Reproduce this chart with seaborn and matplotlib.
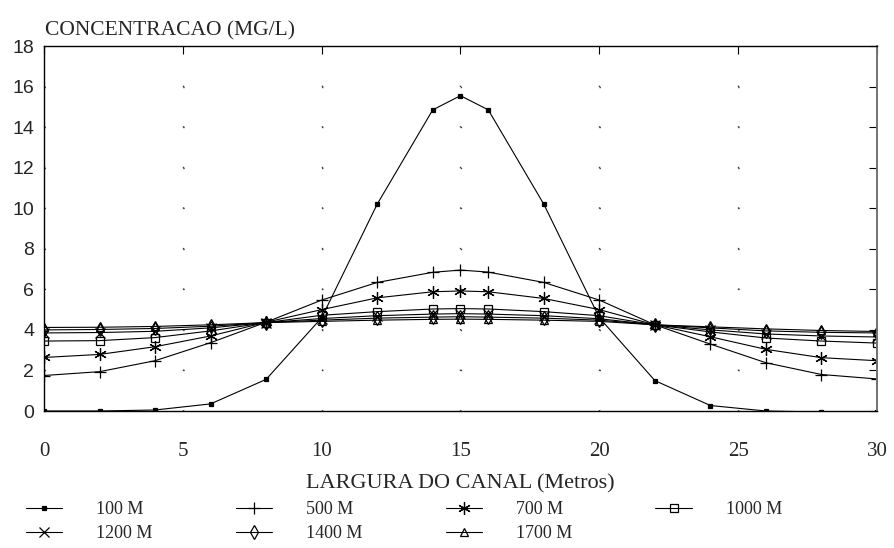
import matplotlib
matplotlib.use("Agg")

import pandas as pd
import matplotlib.pyplot as plt
import seaborn as sns

# ==========================
# Data
# ==========================

largura = [0, 2, 4, 6, 8, 10, 12, 14, 15, 16, 18, 20, 22, 24, 26, 28, 30]

c100 = [0.0, 0.0, 0.05, 0.35, 1.56, 4.6, 10.2, 14.85, 15.55, 14.85, 10.2, 4.6, 1.5, 0.27, 0.0, -0.05, -0.05]
c500 = [1.75, 1.94, 2.48, 3.37, 4.38, 5.47, 6.34, 6.84, 6.95, 6.85, 6.34, 5.47, 4.25, 3.3, 2.38, 1.8, 1.58]
c700 = [2.64, 2.79, 3.17, 3.7, 4.38, 5.0, 5.58, 5.88, 5.92, 5.88, 5.55, 5.0, 4.25, 3.66, 3.04, 2.63, 2.48]
c1000 = [3.45, 3.47, 3.62, 3.95, 4.36, 4.72, 4.9, 5.03, 5.05, 5.03, 4.9, 4.7, 4.25, 3.9, 3.6, 3.45, 3.35]
c1200 = [3.85, 3.87, 3.93, 4.1, 4.36, 4.56, 4.7, 4.78, 4.8, 4.78, 4.7, 4.55, 4.25, 4.0, 3.8, 3.7, 3.65]
c1400 = [4.0, 4.02, 4.07, 4.18, 4.36, 4.48, 4.58, 4.63, 4.65, 4.63, 4.58, 4.48, 4.25, 4.1, 3.95, 3.88, 3.85]
c1700 = [4.12, 4.13, 4.17, 4.25, 4.36, 4.42, 4.48, 4.52, 4.53, 4.52, 4.48, 4.42, 4.25, 4.15, 4.05, 3.97, 3.92]

series_labels = ["100 M", "500 M", "700 M", "1000 M", "1200 M", "1400 M", "1700 M"]
series_values = [c100, c500, c700, c1000, c1200, c1400, c1700]

x_ticks = [0, 5, 10, 15, 20, 25, 30]
y_ticks = [0, 2, 4, 6, 8, 10, 12, 14, 16, 18]

# marker style per series: (marker, size, filled)
marker_style = {
    "100 M": ("s", 2.5, True),
    "500 M": ("+", 9, False),
    "700 M": ((6, 2, 0), 9, False),
    "1000 M": ("s", 6, False),
    "1200 M": ("x", 7, False),
    "1400 M": ("d", 7, False),
    "1700 M": ("^", 6, False),
}

rows = []
for lab, vals in zip(series_labels, series_values):
    for xv, yv in zip(largura, vals):
        rows.append({"x": xv, "conc": yv, "serie": lab})
df = pd.DataFrame(rows)

# ==========================
# Plot
# ==========================

sns.set_theme(style="white")
plt.rcParams["font.family"] = ["Liberation Serif", "DejaVu Serif"]

fig = plt.figure(figsize=(8.94, 5.48), dpi=100)
ax = fig.add_axes([44 / 894, 1 - 411 / 548, (877 - 44) / 894, (411 - 46) / 548])

for lab in series_labels:
    mk, ms, filled = marker_style[lab]
    sns.lineplot(
        data=df[df.serie == lab], x="x", y="conc", ax=ax,
        color="black", linewidth=0.8, label=lab,
        marker=mk, markersize=ms,
        markerfacecolor="black" if filled else "none",
        markeredgecolor="black", markeredgewidth=0.9,
    )

ax.set_xlim(0, 30)
ax.set_ylim(0, 18)
ax.set_xticks(x_ticks)
ax.set_yticks(y_ticks)

# sparse dots at the grid intersections
ax.xaxis.grid(True, color="0.25", linewidth=1.0, linestyle=(0, (1, 28.2)))
ax.yaxis.grid(True, color="0.25", linewidth=1.0, linestyle=(0, (1, 98.9)))

for s in ax.spines.values():
    s.set_visible(True)
    s.set_color("black")
    s.set_linewidth(1.0)
ax.spines["right"].set_color("0.45")
ax.spines["right"].set_linewidth(1.4)

ax.tick_params(axis="both", direction="in", top=True, right=True,
               length=6, width=0.8, color="black")
ax.tick_params(axis="x", pad=22, labelsize=15)
ax.tick_params(axis="y", pad=7, labelsize=14)
for t in ax.get_yticklabels():
    t.set_family(["Liberation Sans", "DejaVu Sans"])

ax.set_xlabel("LARGURA DO CANAL (Metros)", fontsize=16, labelpad=10)
ax.set_ylabel("")
fig.text(45 / 894, 1 - 31 / 548, "CONCENTRACAO (MG/L)", fontsize=15.5,
         ha="left", va="center")

# legend filled row by row (matplotlib fills columns first)
ax.legend_.remove()
handles, labels = ax.get_legend_handles_labels()
order = [0, 4, 1, 5, 2, 6, 3]
fig.legend([handles[i] for i in order], [labels[i] for i in order],
           ncol=4, loc="upper left",
           bbox_to_anchor=(17 / 894, 1 - 492 / 548), frameon=False,
           fontsize=13, numpoints=1, handlelength=2.0, handletextpad=1.9,
           columnspacing=4.6, labelspacing=0.4, borderpad=0)

fig.savefig("out.png", dpi=100)
plt.close(fig)
